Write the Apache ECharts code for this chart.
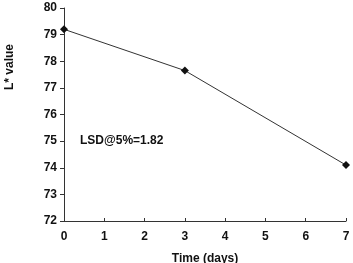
<!DOCTYPE html>
<html>
<head>
<meta charset="utf-8">
<script src="https://cdn.jsdelivr.net/npm/echarts@6/dist/echarts.min.js"></script>
<style>
  html, body { margin: 0; padding: 0; background: #fff; }
  #chart { width: 353px; height: 263px; }
</style>
</head>
<body>
<div id="chart"></div>
<script>
// data
var days = [0, 3, 7];
var lValues = [79.2, 77.65, 74.1];
var yTicks = [72, 73, 74, 75, 76, 77, 78, 79, 80];
var xTicks = [0, 1, 2, 3, 4, 5, 6, 7];

var points = [];
for (var i = 0; i < days.length; i++) points.push([days[i], lValues[i]]);

var font = 'Liberation Sans, Arial, sans-serif';
var myChart = echarts.init(document.getElementById('chart'), null, { renderer: 'canvas' });

var option = {
    backgroundColor: '#fff',
    animation: false,
    grid: { left: 64, right: 7, top: 8, bottom: 42, outerBoundsMode: 'none', containLabel: false },
    xAxis: {
        type: 'value',
        min: xTicks[0],
        max: xTicks[xTicks.length - 1],
        interval: 1,
        splitLine: { show: false },
        axisLine: { lineStyle: { color: '#333', width: 1 } },
        axisTick: { inside: true, length: 3, lineStyle: { color: '#333' } },
        axisLabel: { color: '#111', fontFamily: font, fontWeight: 'bold', fontSize: 12, margin: 10 },
        name: 'Time (days)',
        nameLocation: 'middle',
        nameGap: 32,
        nameTextStyle: { color: '#111', fontFamily: font, fontWeight: 'bold', fontSize: 12 }
    },
    yAxis: {
        type: 'value',
        min: yTicks[0],
        max: yTicks[yTicks.length - 1],
        interval: 1,
        splitLine: { show: false },
        axisLine: { show: true, lineStyle: { color: '#333', width: 1 } },
        axisTick: { show: true, length: 4, lineStyle: { color: '#333' } },
        axisLabel: { color: '#111', fontFamily: font, fontWeight: 'bold', fontSize: 12, margin: 7 }
    },
    graphic: [
        {
            type: 'text',
            x: 10, y: 67,
            rotation: Math.PI / 2,
            style: { text: 'L* value', fill: '#111', font: 'bold 12px ' + font, align: 'center', verticalAlign: 'middle' }
        },
        {
            type: 'text',
            left: 80, top: 135,
            style: { text: 'LSD@5%=1.82', fill: '#111', font: 'bold 12px ' + font }
        }
    ],
    series: [
        {
            type: 'line',
            data: points,
            symbol: 'diamond',
            symbolSize: 8,
            lineStyle: { color: '#333', width: 1 },
            itemStyle: { color: '#111' }
        }
    ]
};

myChart.setOption(option);
</script>
</body>
</html>
